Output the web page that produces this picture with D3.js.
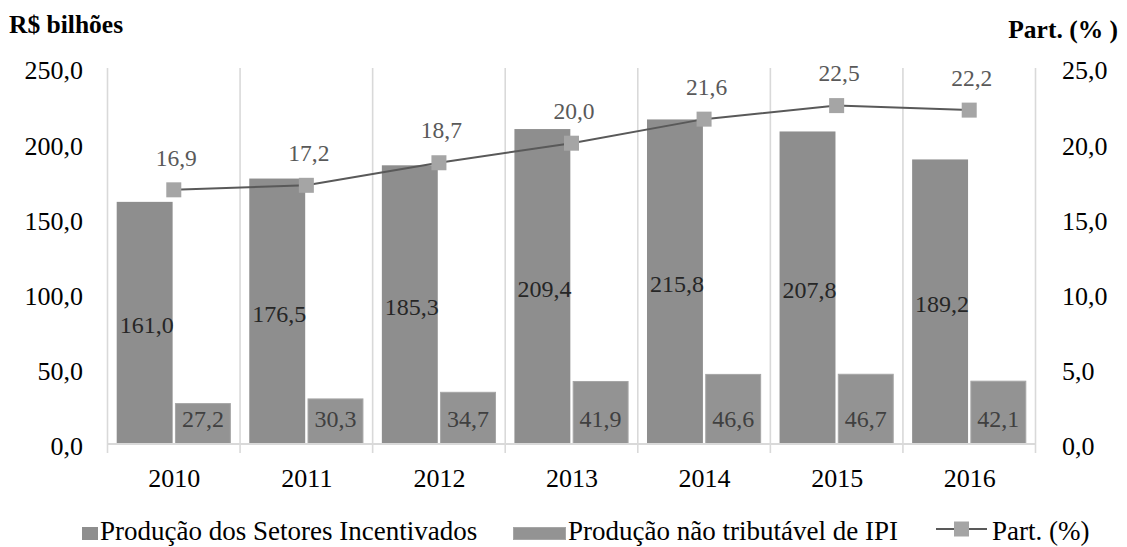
<!DOCTYPE html>
<html>
<head>
<meta charset="utf-8">
<script src="https://cdn.jsdelivr.net/npm/d3@7"></script>
</head>
<body style="margin:0">
<svg id="chart" width="1127" height="547"></svg>
<script>
// Chart data
const years = ["2010", "2011", "2012", "2013", "2014", "2015", "2016"];
const setoresIncentivados = [161.0, 176.5, 185.3, 209.4, 215.8, 207.8, 189.2];
const naoTributavel = [27.2, 30.3, 34.7, 41.9, 46.6, 46.7, 42.1];
const participacao = [16.9, 17.2, 18.7, 20.0, 21.6, 22.5, 22.2];
const leftTicks = [0, 50, 100, 150, 200, 250];
const rightTicks = [0, 5, 10, 15, 20, 25];
const seriesNames = ["Produção dos Setores Incentivados", "Produção não tributável de IPI", "Part. (%)"];

const fmt = v => d3.format(".1f")(v).replace(".", ",");

const svg = d3.select("#chart");
const plot = { left: 107.5, right: 1035.5, top: 68, bottom: 444 };

const x = d3.scaleBand().domain(years).range([plot.left, plot.right]).padding(0);
const sub = d3.scaleBand().domain(["a", "b"]).range([0, x.bandwidth()])
  .paddingInner(0.04).paddingOuter(0.158);
const yL = d3.scaleLinear().domain([0, 250]).range([plot.bottom, plot.top]);
const yR = d3.scaleLinear().domain([0, 25]).range([plot.bottom, plot.top]);

const grid = "#d9d9d9";
const tickSize = 26;
const barLabelSize = 24;
const lineLabelSize = 23.5;
const legendSize = 27;

// Serif text helper
function label(parent, size, fill) {
  return parent.append("text")
    .style("font-family", '"Liberation Serif"')
    .attr("font-size", size)
    .attr("fill", fill);
}

// Vertical category separators (extend below the axis as tick marks)
const bounds = years.map(d => x(d)).concat([x(years[years.length - 1]) + x.bandwidth()]);
svg.append("g").selectAll("line").data(bounds).join("line")
  .attr("x1", d => d).attr("x2", d => d)
  .attr("y1", plot.top).attr("y2", plot.bottom + 9)
  .attr("stroke", grid).attr("stroke-width", 1.6);

// Bars: Produção dos Setores Incentivados
svg.append("g").selectAll("rect").data(setoresIncentivados).join("rect")
  .attr("x", (d, i) => x(years[i]) + sub("a"))
  .attr("width", sub.bandwidth())
  .attr("y", d => yL(d))
  .attr("height", d => yL(0) - yL(d))
  .attr("fill", "#8e8e8e");

// Bars: Produção não tributável de IPI
svg.append("g").selectAll("rect").data(naoTributavel).join("rect")
  .attr("x", (d, i) => x(years[i]) + sub("b") + 0.5)
  .attr("width", sub.bandwidth() - 1)
  .attr("y", d => yL(d) + 0.5)
  .attr("height", d => yL(0) - yL(d) - 0.5)
  .attr("fill", "#939393")
  .attr("stroke", "#a6a6a6").attr("stroke-width", 1);

// Horizontal category axis line
svg.append("line")
  .attr("x1", plot.left).attr("x2", plot.right)
  .attr("y1", plot.bottom).attr("y2", plot.bottom)
  .attr("stroke", grid).attr("stroke-width", 2);

// Participation line with square markers
const cx = d => x(d) + x.bandwidth() / 2;
const line = d3.line().x((d, i) => cx(years[i])).y(d => yR(d));
svg.append("path").datum(participacao)
  .attr("d", line).attr("fill", "none")
  .attr("stroke", "#595959").attr("stroke-width", 2);

const ms = 15;
svg.append("g").selectAll("rect").data(participacao).join("rect")
  .attr("x", (d, i) => cx(years[i]) - ms / 2)
  .attr("y", d => yR(d) - ms / 2)
  .attr("width", ms).attr("height", ms)
  .attr("fill", "#a5a5a5");

const labels = svg.append("g");

// Bar value labels
setoresIncentivados.forEach((d, i) => {
  label(labels, barLabelSize, "#262626")
    .attr("x", x(years[i]) + sub("a") + sub.bandwidth() / 2 + 2)
    .attr("y", (yL(d) + yL(0)) / 2 + 2)
    .attr("dy", "0.35em").attr("text-anchor", "middle")
    .text(fmt(d));
});
naoTributavel.forEach((d, i) => {
  label(labels, barLabelSize, "#404040")
    .attr("x", x(years[i]) + sub("b") + sub.bandwidth() / 2)
    .attr("y", yL(0) - 25)
    .attr("dy", "0.35em").attr("text-anchor", "middle")
    .text(fmt(d));
});
// Line value labels
participacao.forEach((d, i) => {
  label(labels, lineLabelSize, "#595959")
    .attr("x", cx(years[i]) + 2.5)
    .attr("y", yR(d) - 32.5)
    .attr("dy", "0.35em").attr("text-anchor", "middle")
    .text(fmt(d));
});

// Axes
const axL = svg.append("g").attr("transform", `translate(83,2.5)`)
  .call(d3.axisLeft(yL).tickValues(leftTicks).tickFormat(fmt).tickSize(0).tickPadding(0));
const axR = svg.append("g").attr("transform", `translate(1062,2.5)`)
  .call(d3.axisRight(yR).tickValues(rightTicks).tickFormat(fmt).tickSize(0).tickPadding(0));
const axX = svg.append("g").attr("transform", `translate(0.5,${plot.bottom + 33.5})`)
  .call(d3.axisBottom(x).tickSize(0).tickPadding(0));
[axL, axR, axX].forEach(g => {
  g.attr("font-family", null).attr("font-size", null);
  g.select(".domain").remove();
  g.selectAll("text")
    .style("font-family", '"Liberation Serif"')
    .attr("font-size", tickSize)
    .attr("fill", "#000");
});
axX.selectAll("text").attr("dy", "0.35em");

// Axis titles
label(svg, 25.5, "#000").attr("x", 9).attr("y", 33)
  .attr("font-weight", "bold").text("R$ bilhões");
label(svg, 25.5, "#000").attr("x", 1118).attr("y", 38)
  .attr("text-anchor", "end").attr("font-weight", "bold").text("Part. (% )");

// Legend
const baseline = 540;
const legend = svg.append("g");
legend.append("rect").attr("x", 82).attr("y", 527).attr("width", 16).attr("height", 13).attr("fill", "#8e8e8e");
label(legend, legendSize, "#000").attr("x", 100).attr("y", baseline).text(seriesNames[0]);
legend.append("rect").attr("x", 513.5).attr("y", 527.5).attr("width", 52).attr("height", 12)
  .attr("fill", "#939393").attr("stroke", "#a6a6a6");
label(legend, legendSize, "#000").attr("x", 568).attr("y", baseline).text(seriesNames[1]);
legend.append("line").attr("x1", 936).attr("x2", 987).attr("y1", 529).attr("y2", 529)
  .attr("stroke", "#595959").attr("stroke-width", 2);
legend.append("rect").attr("x", 954).attr("y", 521.5).attr("width", 15).attr("height", 15).attr("fill", "#a5a5a5");
label(legend, legendSize, "#000").attr("x", 992).attr("y", baseline).text(seriesNames[2]);
</script>
</body>
</html>
